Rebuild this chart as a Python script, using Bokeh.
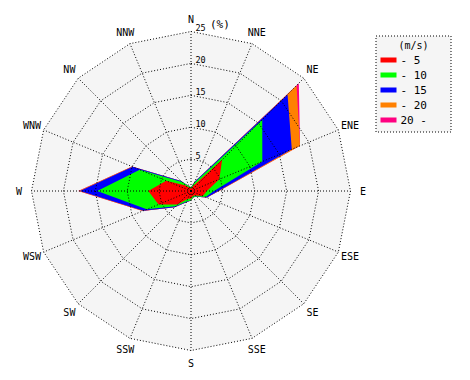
import math
import numpy as np
from bokeh.plotting import figure
from bokeh.core.properties import value
from bokeh.embed import file_html
from bokeh.resources import INLINE

# ---- data -------------------------------------------------------------
directions = ["N", "NNE", "NE", "ENE", "E", "ESE", "SE", "SSE",
              "S", "SSW", "SW", "WSW", "W", "WNW", "NW", "NNW"]
speed_classes = ["- 5", "- 10", "- 15", "- 20", "20 -"]
class_colors = ["#ff0000", "#00ff00", "#0000ff", "#ff8000", "#ff0080"]

# frequency (%) of each speed class per direction
freq_5 = [0.4, 0.8, 6.9, 4.8, 2.5, 2.0, 1.0, 0.8, 1.2, 1.3, 3.0, 5.5, 6.7, 4.2, 1.2, 0.5]
freq_10 = [0.2, 0.6, 8.9, 7.3, 1.1, 0.5, 0.2, 0.2, 0.3, 0.5, 0.4, 2.0, 8.0, 4.5, 0.8, 0.3]
freq_15 = [0.0, 0.2, 5.6, 5.0, 0.7, 0.2, 0.1, 0.0, 0.0, 0.1, 0.2, 0.6, 2.7, 1.2, 0.2, 0.0]
freq_20 = [0.0, 0.0, 2.0, 1.4, 0.1, 0.0, 0.0, 0.0, 0.0, 0.0, 0.0, 0.1, 0.2, 0.1, 0.0, 0.0]
freq_20p = [0.0, 0.0, 0.5, 0.0, 0.0, 0.0, 0.0, 0.0, 0.0, 0.0, 0.0, 0.0, 0.1, 0.0, 0.0, 0.0]

ring_values = [5, 10, 15, 20, 25]
ring_labels = ["5", "10", "15", "20", "25"]
unit_label = "(%)"

# ---- geometry ---------------------------------------------------------
CX, CY = 190.5, 190.5          # rose centre in page pixels
R_MAX = 159.5                  # radius of the 25 % ring in pixels
R_MAXV = 25.0
W, H = 466, 376
scale = R_MAX / R_MAXV

n = len(directions)
ang = np.radians(np.arange(n) * 360.0 / n)


def polar(r):
    r = np.asarray(r, dtype=float) * scale
    return list(r * np.sin(ang)), list(r * np.cos(ang))


def px(sx, sy):
    return sx - CX, CY - sy


p = figure(width=W, height=H, output_backend="svg", toolbar_location=None,
           x_range=(-CX, W - CX), y_range=(CY - H, CY),
           min_border=0)
p.axis.visible = False
p.grid.visible = False
p.outline_line_color = None
p.background_fill_color = "white"
p.border_fill_color = "white"

# background of the rose
bx, by = polar([R_MAXV] * n)
p.patch(bx, by, fill_color="#f5f5f5", line_color=None)

# stacked wind polygons (outermost first)
classes = [freq_5, freq_10, freq_15, freq_20, freq_20p]
cum = np.cumsum(np.array(classes), axis=0)
for i in range(len(classes) - 1, -1, -1):
    xs, ys = polar(cum[i])
    p.patch(xs, ys, fill_color=class_colors[i], line_color=None)

# grid rings & spokes
dash = "1 2"
for rv in ring_values:
    xs, ys = polar([rv] * n)
    p.line(xs + xs[:1], ys + ys[:1], line_color="black", line_dash=dash, line_width=1)
ex, ey = polar([R_MAXV] * n)
p.segment(x0=[0] * n, y0=[0] * n, x1=ex, y1=ey, line_color="black",
          line_dash=dash, line_width=1)

# direction labels
lx, ly = polar([172 / scale] * n)
p.text(x=lx, y=ly, text=directions, text_align="center", text_baseline="middle",
       text_font=value("DejaVu Sans Mono"), text_font_size="10px", text_color="black")

# ring labels
p.text(x=[4.5] * len(ring_values), y=[rv * scale + 0.5 for rv in ring_values],
       text=ring_labels, text_align="left", text_baseline="bottom",
       text_font=value("DejaVu Sans Mono"), text_font_size="8.5px", text_color="black")
ux, _ = px(209.5, 0)
p.text(x=[ux], y=[R_MAXV * scale + 0.5], text=[unit_label], text_align="left",
       text_baseline="bottom", text_font=value("DejaVu Sans Mono"),
       text_font_size="11px", text_color="black")

# legend box
l0x, l0y = px(375.5, 35.5)
l1x, l1y = px(450.5, 131.5)
p.quad(left=[l0x], right=[l1x], top=[l0y], bottom=[l1y], fill_color="#f5f5f5",
       line_color="black", line_dash=dash, line_width=1)
tx, ty = px(413, 44.5)
p.text(x=[tx], y=[ty], text=["(m/s)"], text_align="center", text_baseline="middle",
       text_font=value("DejaVu Sans Mono"), text_font_size="10px", text_color="black")
row_y = [59.5, 74.5, 89.5, 104.5, 119.5]
sx0, _ = px(380, 0)
sx1, _ = px(396, 0)
txl, _ = px(400, 0)
p.quad(left=[sx0] * 5, right=[sx1] * 5,
       top=[CY - y + 2.5 for y in row_y], bottom=[CY - y - 2.5 for y in row_y],
       fill_color=class_colors, line_color=None)
p.text(x=[txl] * 5, y=[CY - y for y in row_y], text=speed_classes,
       text_align="left", text_baseline="middle",
       text_font=value("DejaVu Sans Mono"), text_font_size="11px", text_color="black")

open("out.html", "w").write(file_html(p, INLINE))
